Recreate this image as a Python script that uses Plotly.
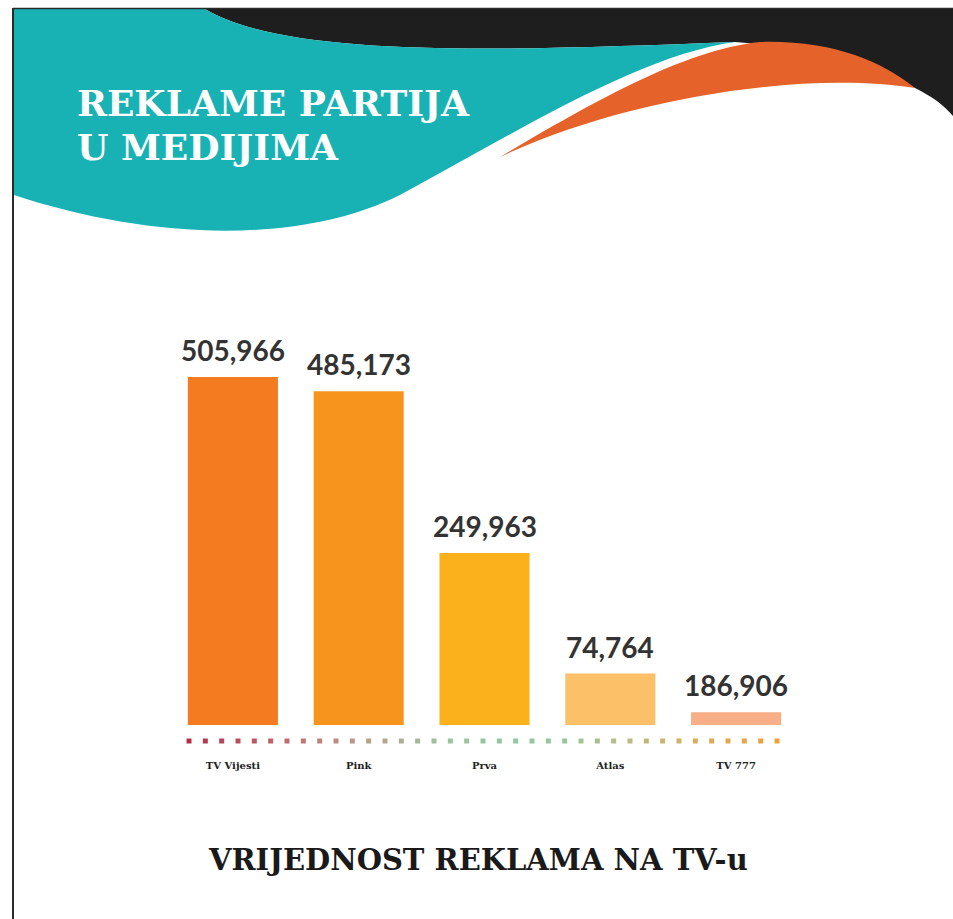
import numpy as np
import plotly.graph_objects as go

W, H = 953, 919

# ---- data ----
categories = ["TV Vijesti", "Pink", "Prva", "Atlas", "TV 777"]
values = [505966, 485173, 249963, 74764, 18691]          # bar heights as drawn
value_labels = ["505,966", "485,173", "249,963", "74,764", "186,906"]  # printed labels
bar_colors = ["#F47B20", "#F7941D", "#FBB11B", "#FCC068", "#F8AE86"]

title_lines = ["REKLAME PARTIJA", "U MEDIJIMA"]
bottom_title = "VRIJEDNOST REKLAMA NA TV-u"


def fx(x):
    return x / W


def fy(y):
    return 1 - y / H


def P(x, y):
    return f"{fx(x):.5f},{fy(y):.5f}"


fig = go.Figure()

x_pos = list(range(len(categories)))
fig.add_trace(go.Bar(
    x=x_pos, y=values,
    marker=dict(color=bar_colors, line=dict(width=0)),
    width=0.716, hoverinfo="skip",
))

# dotted gradient baseline (decoration) on a pixel-space axis pair
dot_x = np.linspace(189, 777, 37)
fig.add_trace(go.Scatter(
    x=dot_x, y=[741] * len(dot_x), xaxis="x2", yaxis="y2", mode="markers",
    marker=dict(symbol="square", size=5, color=dot_x,
                colorscale=[[0, "#B0304A"], [0.15, "#C2646F"], [0.3, "#B8A088"],
                            [0.45, "#9AC4A0"], [0.6, "#90C8A2"], [0.75, "#B8BC82"],
                            [0.9, "#E2A852"], [1, "#F0A034"]],
                cmin=189, cmax=777, line=dict(width=0)),
    hoverinfo="skip",
))

shapes = []
# black top band
shapes.append(dict(type="path", xref="paper", yref="paper",
                   path=f"M {P(205,9)} C {P(290,60)} {P(520,50)} {P(735,42)} "
                        f"C {P(820,48)} {P(880,68)} {P(915,88)} "
                        f"C {P(935,98)} {P(948,108)} {P(960,125)} L {P(960,9)} Z",
                   fillcolor="#1E1E1E", line=dict(width=0)))
# teal wave
shapes.append(dict(type="path", xref="paper", yref="paper",
                   path=f"M {P(14,9)} L {P(205,9)} C {P(290,60)} {P(520,50)} {P(735,42)} "
                        f"C {P(640,55)} {P(520,130)} {P(400,195)} "
                        f"C {P(300,245)} {P(150,240)} {P(14,195)} Z",
                   fillcolor="#18B2B5", line=dict(width=0)))
# orange crescent
shapes.append(dict(type="path", xref="paper", yref="paper",
                   path=f"M {P(500,157)} C {P(580,110)} {P(680,50)} {P(760,42)} "
                        f"C {P(830,40)} {P(880,60)} {P(915,88)} "
                        f"C {P(800,70)} {P(620,100)} {P(500,157)} Z",
                   fillcolor="#E5632A", line=dict(width=0)))
# frame lines
shapes.append(dict(type="line", xref="paper", yref="paper",
                   x0=fx(13), x1=fx(13), y0=0, y1=fy(8),
                   line=dict(color="#2A2A2A", width=2)))
shapes.append(dict(type="line", xref="paper", yref="paper",
                   x0=fx(13), x1=1, y0=fy(8.5), y1=fy(8.5),
                   line=dict(color="#2A2A2A", width=1.5)))

annotations = []
slab = "DejaVu Serif"
annotations.append(dict(text=f"<b>{title_lines[0]}</b>", xref="paper", yref="paper",
                        x=fx(75), y=fy(103), xanchor="left", yanchor="middle",
                        showarrow=False, font=dict(family=slab, size=36, color="white")))
annotations.append(dict(text=f"<b>{title_lines[1]}</b>", xref="paper", yref="paper",
                        x=fx(75), y=fy(147), xanchor="left", yanchor="middle",
                        showarrow=False, font=dict(family=slab, size=36, color="white")))
annotations.append(dict(text=f"<b>{bottom_title}</b>", xref="paper", yref="paper",
                        x=fx(478), y=fy(860), xanchor="center", yanchor="middle",
                        showarrow=False, font=dict(family=slab, size=29, color="#1A1A1A")))
for xi, v, lab in zip(x_pos, values, value_labels):
    annotations.append(dict(text=lab, x=xi, y=v, xref="x", yref="y",
                            xanchor="center", yanchor="bottom", yshift=8,
                            showarrow=False,
                            font=dict(family="Lato", size=28, color="#333333", weight=700)))

fig.update_layout(
    width=W, height=H,
    margin=dict(l=0, r=0, t=0, b=0),
    paper_bgcolor="white", plot_bgcolor="rgba(0,0,0,0)",
    showlegend=False,
    bargap=0.284,
    shapes=shapes, annotations=annotations,
    xaxis=dict(domain=[fx(170), fx(799)], range=[-0.5, 4.5],
               tickvals=x_pos, ticktext=[f"<b>{c}</b>" for c in categories],
               tickfont=dict(family=slab, size=10, color="#222222"),
               showgrid=False, zeroline=False, showline=False, ticks="",
               ticklabelstandoff=33),
    yaxis=dict(domain=[fy(725), fy(300)], range=[0, 617931],
               visible=False, showgrid=False),
    xaxis2=dict(domain=[0, 1], range=[0, W], anchor="y2", visible=False),
    yaxis2=dict(domain=[0, 1], range=[H, 0], anchor="x2", visible=False),
)

fig.write_html("out.html",
               config={"displayModeBar": False},
               post_script="document.body.style.margin='0';document.body.style.overflow='hidden';")
